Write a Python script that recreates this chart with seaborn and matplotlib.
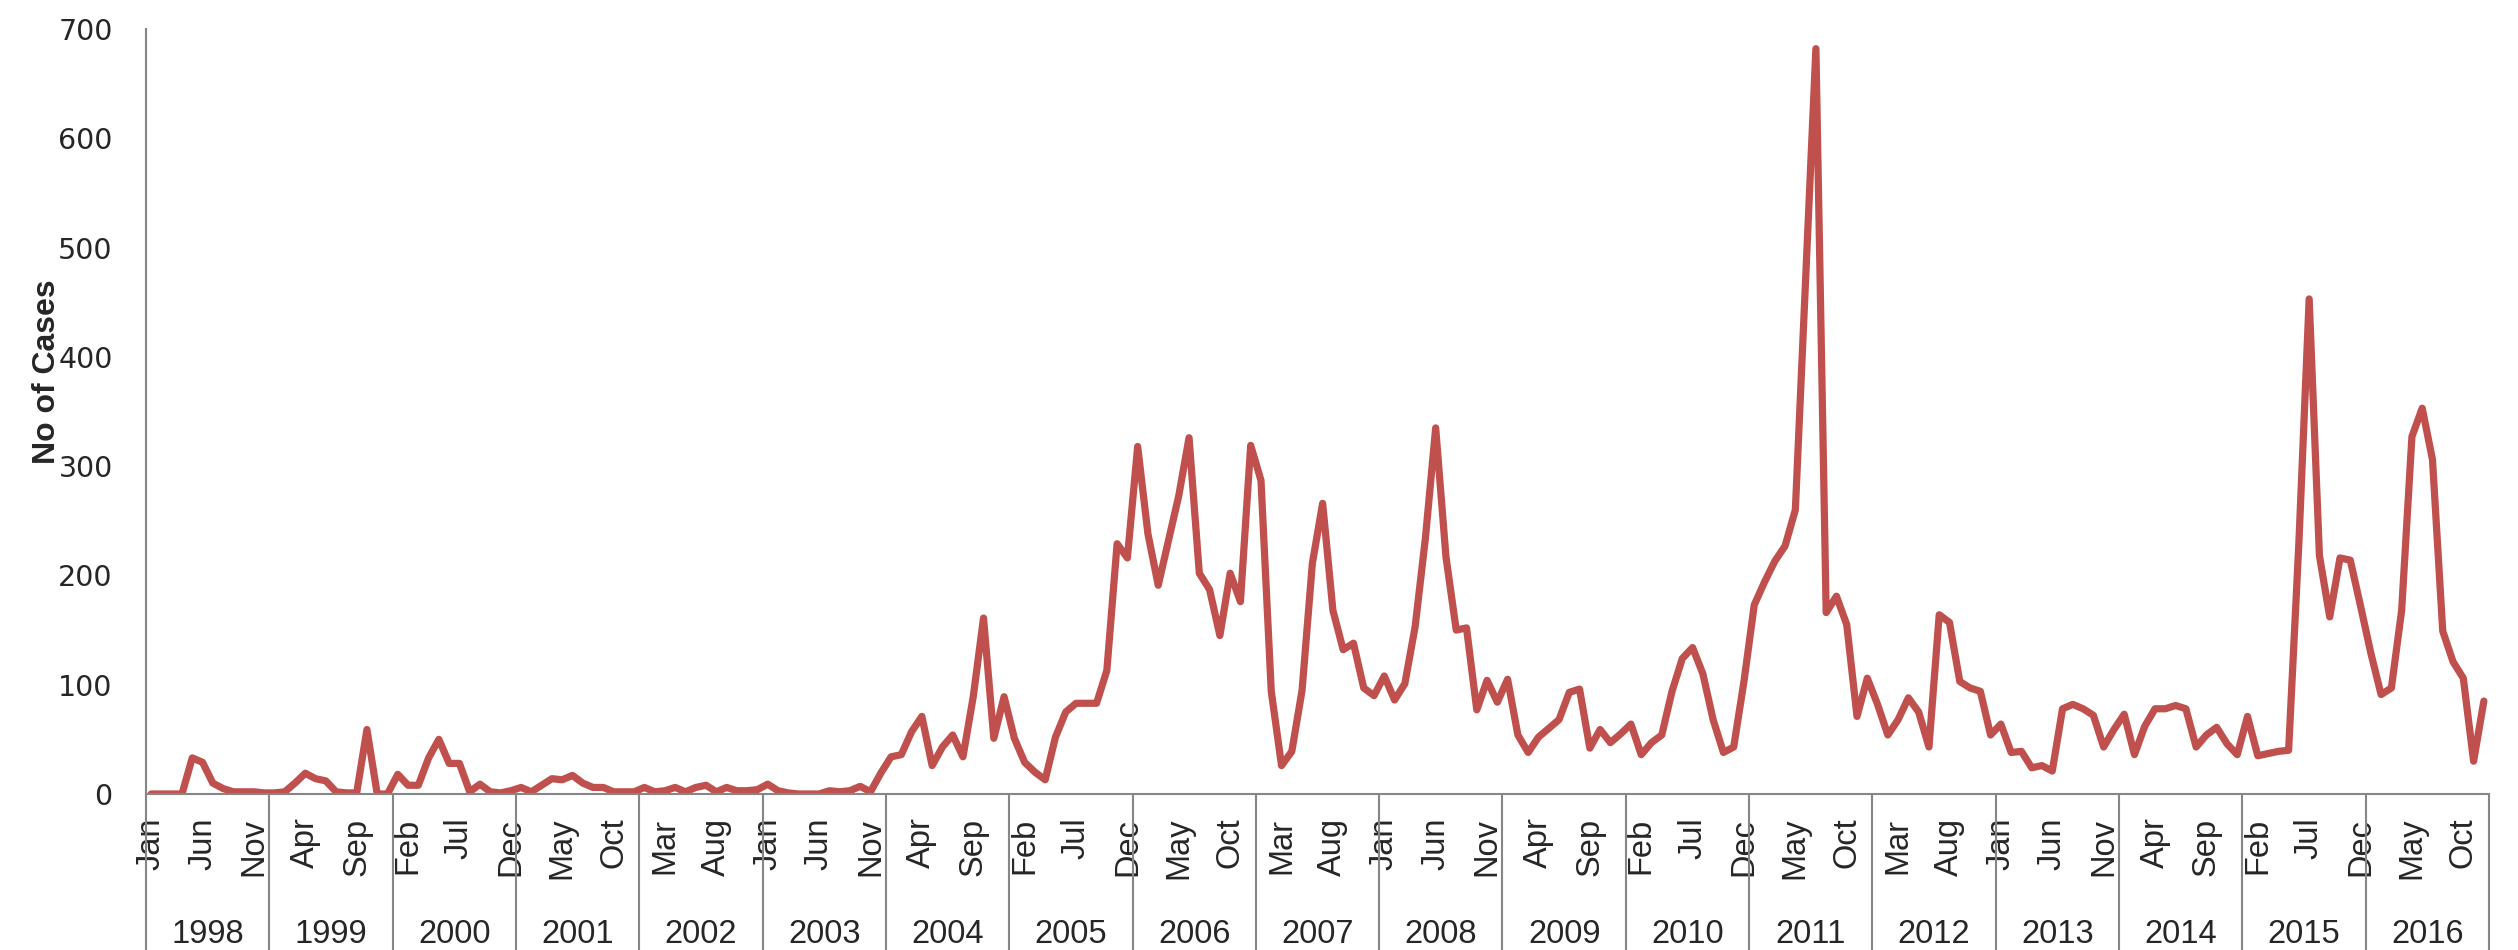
import seaborn as sns
import pandas as pd
import numpy as np
import matplotlib
matplotlib.use("Agg")
import matplotlib.pyplot as plt
import matplotlib.transforms as mtransforms

years = list(range(1998, 2017))
month_names = ['Jan', 'Feb', 'Mar', 'Apr', 'May', 'Jun',
               'Jul', 'Aug', 'Sep', 'Oct', 'Nov', 'Dec']

## monthly number of cases, one row per year (Jan..Dec)
cases = [
    0, 0, 0, 0, 33, 29, 10, 5, 2, 2, 2, 1,                      # 1998
    1, 2, 10, 19, 14, 12, 2, 1, 1, 59, 0, 0,                    # 1999
    18, 8, 8, 33, 50, 28, 28, 2, 9, 2, 1, 3,                    # 2000
    6, 2, 8, 14, 13, 17, 10, 6, 6, 2, 2, 2,                     # 2001
    6, 2, 3, 6, 2, 6, 8, 2, 6, 3, 3, 4,                         # 2002
    9, 3, 1, 0, 0, 0, 3, 2, 3, 7, 2, 19,                        # 2003
    34, 36, 57, 71, 26, 43, 54, 34, 89, 161, 51, 89,            # 2004
    51, 29, 20, 13, 52, 75, 83, 83, 83, 113, 229, 216,          # 2005
    318, 238, 191, 232, 273, 326, 202, 187, 145, 202, 176, 319, # 2006
    287, 94, 26, 39, 95, 211, 266, 168, 132, 138, 97, 90,       # 2007
    108, 86, 101, 153, 234, 335, 217, 150, 152, 77, 104, 84,    # 2008
    105, 54, 38, 52, 60, 68, 93, 96, 42, 59, 47, 55,            # 2009
    64, 36, 47, 54, 94, 124, 134, 110, 68, 38, 43, 103,         # 2010
    173, 194, 213, 227, 260, 470, 682, 166, 181, 155, 71, 106,  # 2011
    82, 54, 68, 88, 75, 43, 164, 157, 103, 97, 94, 54,          # 2012
    64, 38, 39, 24, 26, 21, 78, 82, 78, 72, 43, 59,             # 2013
    73, 36, 62, 78, 78, 81, 78, 43, 54, 61, 46, 36,             # 2014
    71, 35, 37, 39, 40, 230, 453, 218, 162, 216, 214, 172,      # 2015
    129, 91, 97, 168, 327, 353, 306, 149, 121, 106, 30, 85,     # 2016
]

yticks = [0, 100, 200, 300, 400, 500, 600, 700]
LABEL_STEP = 5

sns.set_style("white")
plt.rcParams['font.family'] = ['Liberation Sans', 'DejaVu Sans']

df = pd.DataFrame({
    'idx': np.arange(len(cases)),
    'cases': cases,
})

fig = plt.figure(figsize=(25.18, 9.5), dpi=100)
ax = fig.add_axes([146 / 2518, 1 - 794 / 950, (2489 - 146) / 2518, (794 - 29) / 950])

sns.lineplot(data=df, x='idx', y='cases', ax=ax, color='#C0504D', linewidth=5.2,
             solid_joinstyle='round', solid_capstyle='round')

ax.set_xlim(-0.5, len(cases) - 0.5)
ax.set_ylim(0, 700)
ax.set_xlabel('')
ax.set_ylabel('')

# y axis
ax.set_yticks(yticks)
ax.set_yticklabels([str(v) for v in yticks], family='DejaVu Sans', fontsize=20.5)
ax.tick_params(axis='y', length=0, pad=24)

# month labels every 5 months
pos = df['idx'][::LABEL_STEP]
ax.set_xticks(pos)
ax.set_xticklabels([month_names[i % 12] for i in pos], rotation=90, fontsize=23.5)
ax.tick_params(axis='x', length=0, pad=17)

for side in ['top', 'right']:
    ax.spines[side].set_visible(False)
for side in ['left', 'bottom']:
    ax.spines[side].set_color('#868686')
    ax.spines[side].set_linewidth(1.5)

# year group separators and labels
trans = mtransforms.blended_transform_factory(ax.transData, ax.transAxes)
bounds = [12 * k - 0.5 for k in range(len(years) + 1)]
ax.vlines(bounds, -0.21, 0, transform=trans, colors='#868686', linewidth=1.5, clip_on=False)
for k, yr in enumerate(years):
    ax.text(12 * k + 5.5, -0.184, str(yr), transform=trans, ha='center', va='center',
            fontsize=23.5)

fig.text(47 / 2518, 1 - 372 / 950, 'No of Cases', rotation=90, ha='center', va='center',
         fontsize=23, fontweight='bold')

plt.savefig('out.png', dpi=100)
